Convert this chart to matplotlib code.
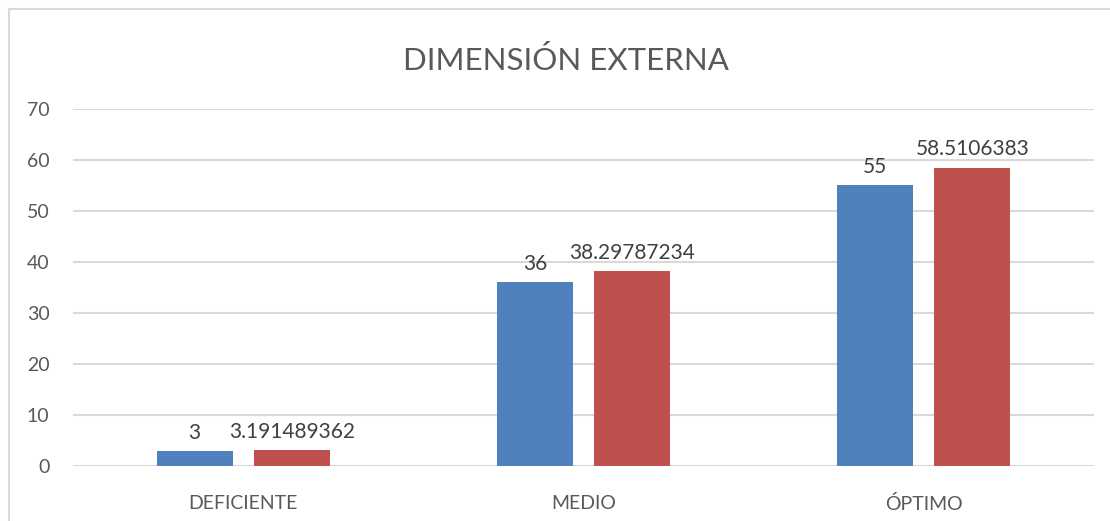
import matplotlib.pyplot as plt
from matplotlib.patches import Rectangle

# datos
categorias = ['DEFICIENTE', 'MEDIO', 'ÓPTIMO']
serie1 = [3, 36, 55]
serie2 = [3.191489362, 38.29787234, 58.5106383]
etiquetas2 = ['3.191489362', '38.29787234', '58.5106383']

plt.rcParams['font.family'] = ['Lato', 'DejaVu Sans']

fig = plt.figure(figsize=(11.1, 5.21), dpi=100)
ax = fig.add_axes([73 / 1110, 1 - 466 / 521, (1094 - 73) / 1110, (466 - 109) / 521])

# marco exterior del grafico
fig.patches.append(Rectangle((9 / 1110, -0.1), 1.2, 1 - 9 / 521 + 0.1,
                             transform=fig.transFigure, fill=False,
                             edgecolor='#d9d9d9', linewidth=1.5))

x = range(len(categorias))
ancho = 0.224
desp = 0.1425
b1 = ax.bar([i - desp for i in x], serie1, ancho, color='#4F81BD', zorder=3)
b2 = ax.bar([i + desp for i in x], serie2, ancho, color='#C0504D', zorder=3)

for r, v in zip(b1, serie1):
    ax.text(r.get_x() + r.get_width() / 2, v + 1.6, str(v), ha='center', va='bottom',
            fontsize=15, color='#404040')
for r, v, t in zip(b2, serie2, etiquetas2):
    ax.text(r.get_x() + r.get_width() / 2, v + 1.6, t, ha='center', va='bottom',
            fontsize=15, color='#404040')

ax.set_xlim(-0.5, 2.5)
ax.set_ylim(0, 70)
ax.set_yticks(range(0, 71, 10))
ax.set_xticks(list(x))
ax.set_xticklabels(categorias)
ax.grid(axis='y', color='#d9d9d9', linewidth=1.5, zorder=0)
for s in ax.spines.values():
    s.set_visible(False)
ax.tick_params(axis='both', length=0, labelsize=14, colors='#595959')
ax.tick_params(axis='y', pad=17)
ax.tick_params(axis='x', pad=21)

fig.text(566 / 1110, 1 - 60 / 521, 'DIMENSIÓN EXTERNA', ha='center', va='center',
         fontsize=22.5, color='#595959')

plt.savefig('out.png', dpi=100)
